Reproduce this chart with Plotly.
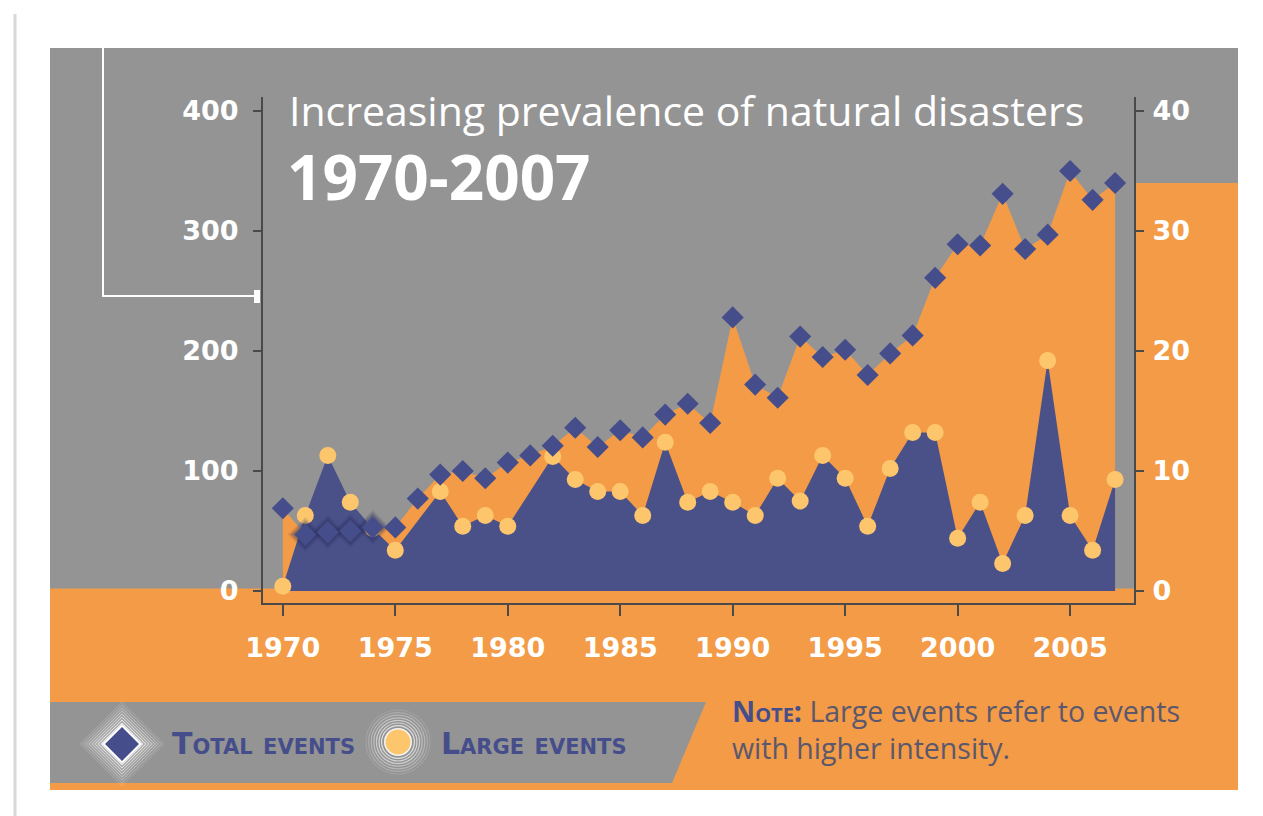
import plotly.graph_objects as go

# ---- data -------------------------------------------------------------
years = list(range(1970, 2008))

# total number of natural disaster events per year (left axis)
total_events = [69, 47, 49, 50, 53, 53, 77, 97, 100, 94,
                107, 113, 121, 136, 120, 134, 128, 147, 156, 140,
                228, 172, 161, 212, 195, 201, 180, 198, 213, 261,
                289, 288, 331, 285, 297, 350, 326, 340]

# number of large (high intensity) events per year (right axis)
large_events = [0.4, 6.3, 11.3, 7.4, 5.2, 3.4, None, 8.3, 5.4, 6.3,
                5.4, None, 11.2, 9.3, 8.3, 8.3, 6.3, 12.4, 7.4, 8.3,
                7.4, 6.3, 9.4, 7.5, 11.3, 9.4, 5.4, 10.2, 13.2, 13.2,
                4.4, 7.4, 2.3, 6.3, 19.2, 6.3, 3.4, 9.3]

x_ticks = [1970, 1975, 1980, 1985, 1990, 1995, 2000, 2005]
left_ticks = [0, 100, 200, 300, 400]
right_ticks = [0, 10, 20, 30, 40]

title_text = "Increasing prevalence of natural disasters"
period_text = "1970-2007"
legend_total = "Total events"
legend_large = "Large events"
note_head = "Note:"
note_line1 = "Large events refer to events"
note_line2 = "with higher intensity."

# ---- styling ----------------------------------------------------------
W, H = 1263, 816
L, R, T, B = 263, 1134, 97, 603          # plot area edges in pixels

GRAY = "#949494"
ORANGE = "#f39b46"
NAVY = "#454e8b"
BLUE_AREA = "#4a5189"
YELLOW = "#fdc66c"
AXIS = "#4a4a4a"
NOTE_GRAY = "#5b586e"

Y_RANGE = [-10, 411.7]
Y2_RANGE = [v / 10 for v in Y_RANGE]
X_RANGE = [1969.12, 2007.84]


def px(xp):
    return (xp - L) / (R - L)


def py(yp):
    return (B - yp) / (B - T)


def value_to_paper(v):
    return (v - Y_RANGE[0]) / (Y_RANGE[1] - Y_RANGE[0])


def diamond_path(cx, cy, r):
    return (f"M {px(cx - r)},{py(cy)} L {px(cx)},{py(cy - r)} "
            f"L {px(cx + r)},{py(cy)} L {px(cx)},{py(cy + r)} Z")


zero_y = value_to_paper(0)

# ---- background -------------------------------------------------------
shapes = [
    # page edge
    dict(type="line", xref="paper", yref="paper", x0=px(15), x1=px(15),
         y0=py(14), y1=py(816), line=dict(color="#d8d8d8", width=3), layer="below"),
    # grey panel
    dict(type="rect", xref="paper", yref="paper", x0=px(50), x1=px(1238),
         y0=py(790), y1=py(48), fillcolor=GRAY, line=dict(width=0), layer="below"),
    # orange band under the baseline
    dict(type="rect", xref="paper", yref="paper", x0=px(50), x1=px(1238),
         y0=py(790), y1=zero_y + 0.005, fillcolor=ORANGE, line=dict(width=0), layer="below"),
    # orange band continuing the last total to the right edge
    dict(type="rect", xref="paper", yref="paper", x0=1, x1=px(1238),
         y0=zero_y, y1=value_to_paper(total_events[-1]), fillcolor=ORANGE,
         line=dict(width=0), layer="below"),
    # grey legend strip with slanted right edge
    dict(type="path", xref="paper", yref="paper",
         path=(f"M {px(50)},{py(702)} L {px(706)},{py(702)} "
               f"L {px(672)},{py(783)} L {px(50)},{py(783)} Z"),
         fillcolor=GRAY, line=dict(width=0), layer="below"),
    # white bracket line in the top-left corner
    dict(type="path", xref="paper", yref="paper",
         path=f"M {px(103)},{py(48)} L {px(103)},{py(296)} L {px(256)},{py(296)}",
         line=dict(color="white", width=2), layer="below"),
    dict(type="rect", xref="paper", yref="paper", x0=px(254), x1=px(260),
         y0=py(303), y1=py(290), fillcolor="white", line=dict(width=0), layer="below"),
]

# legend icon: diamond with a soft white glow
dcx, dcy = 122, 744
for k in range(8):
    r = 42 - 3 * k
    shapes.append(dict(type="path", xref="paper", yref="paper",
                       path=diamond_path(dcx, dcy, r),
                       line=dict(color="white", width=1.2),
                       opacity=0.12 + 0.1 * k, layer="above"))
shapes.append(dict(type="path", xref="paper", yref="paper",
                   path=diamond_path(dcx, dcy, 20), fillcolor="white",
                   line=dict(width=0), layer="above"))
shapes.append(dict(type="path", xref="paper", yref="paper",
                   path=diamond_path(dcx, dcy, 17), fillcolor=NAVY,
                   line=dict(width=0), layer="above"))

# legend icon: circle with a soft white glow
ccx, ccy = 398, 742
for k in range(7):
    r = 32 - 2.6 * k
    shapes.append(dict(type="circle", xref="paper", yref="paper",
                       x0=px(ccx - r), x1=px(ccx + r), y0=py(ccy + r), y1=py(ccy - r),
                       line=dict(color="white", width=1.2),
                       opacity=0.12 + 0.1 * k, layer="above"))
shapes.append(dict(type="circle", xref="paper", yref="paper",
                   x0=px(ccx - 14), x1=px(ccx + 14), y0=py(ccy + 14), y1=py(ccy - 14),
                   fillcolor="white", opacity=0.9, line=dict(width=0), layer="above"))
shapes.append(dict(type="circle", xref="paper", yref="paper",
                   x0=px(ccx - 12.5), x1=px(ccx + 12.5), y0=py(ccy + 12.5), y1=py(ccy - 12.5),
                   fillcolor=YELLOW, line=dict(width=0), layer="above"))

# ---- traces -----------------------------------------------------------
fig = go.Figure()

fig.add_trace(go.Scatter(x=years, y=total_events, yaxis="y", mode="none",
                         fill="tozeroy", fillcolor=ORANGE, hoverinfo="skip"))

fig.add_trace(go.Scatter(x=years, y=large_events, yaxis="y2", mode="none",
                         fill="tozeroy", fillcolor=BLUE_AREA, connectgaps=True,
                         hoverinfo="skip"))

fig.add_trace(go.Scatter(x=years, y=large_events, yaxis="y2", mode="markers",
                         marker=dict(symbol="circle", size=17, color=YELLOW,
                                     line=dict(width=0)),
                         name=legend_large))

# soft shadow around the early diamonds (1971-1974)
early = slice(1, 5)
for size, op in [(27, 0.10), (24, 0.16), (21, 0.22)]:
    fig.add_trace(go.Scatter(x=years[early], y=total_events[early], yaxis="y3",
                             mode="markers", hoverinfo="skip",
                             marker=dict(symbol="diamond", size=size,
                                         color="#272c58", opacity=op,
                                         line=dict(width=0))))

fig.add_trace(go.Scatter(x=years, y=total_events, yaxis="y3", mode="markers",
                         marker=dict(symbol="diamond", size=17, color=NAVY,
                                     line=dict(width=0)),
                         name=legend_total))

# ---- axes -------------------------------------------------------------
tick_font = dict(family="DejaVu Sans", size=27, color="white", weight="bold")
axis_common = dict(showline=True, linecolor=AXIS, linewidth=2, ticks="outside",
                   tickcolor=AXIS, tickwidth=2, showgrid=False, zeroline=False,
                   tickfont=tick_font, fixedrange=True)

fig.update_layout(
    width=W, height=H,
    margin=dict(l=L, r=W - R, t=T, b=H - B, pad=0),
    paper_bgcolor="white",
    plot_bgcolor="rgba(0,0,0,0)",
    showlegend=False,
    xaxis=dict(range=X_RANGE, tickvals=x_ticks, ticklen=11,
               ticklabelstandoff=9, **axis_common),
    yaxis=dict(range=Y_RANGE, tickvals=left_ticks, ticklen=8,
               ticklabelstandoff=9, **axis_common),
    yaxis2=dict(range=Y2_RANGE, tickvals=right_ticks, ticklen=8, side="right",
                overlaying="y", ticklabelstandoff=3, **axis_common),
    yaxis3=dict(range=Y_RANGE, overlaying="y", visible=False, fixedrange=True),
    shapes=shapes,
)

# ---- text -------------------------------------------------------------
note_text = (f"<span style='font-variant:small-caps;font-weight:bold;color:{NAVY}'>"
             f"{note_head}</span> {note_line1}<br>{note_line2}")

annotations = [
    dict(text=title_text, x=px(287), y=py(110),
         font=dict(family="Open Sans", size=41, color="white")),
    dict(text=period_text, x=px(285), y=py(176),
         font=dict(family="Open Sans", size=62, color="white", weight="bold")),
    dict(text=legend_total, x=px(170), y=py(743),
         font=dict(family="DejaVu Sans", size=30, color=NAVY, weight="bold",
                   variant="small-caps")),
    dict(text=legend_large, x=px(439), y=py(743),
         font=dict(family="DejaVu Sans", size=30, color=NAVY, weight="bold",
                   variant="small-caps")),
    dict(text=note_text, x=px(730), y=py(729), align="left",
         font=dict(family="Open Sans", size=28.5, color=NOTE_GRAY)),
]
for a in annotations:
    a.update(xref="paper", yref="paper", xanchor="left", yanchor="middle",
             showarrow=False)
fig.update_layout(annotations=annotations)

fig.write_html("out.html")
